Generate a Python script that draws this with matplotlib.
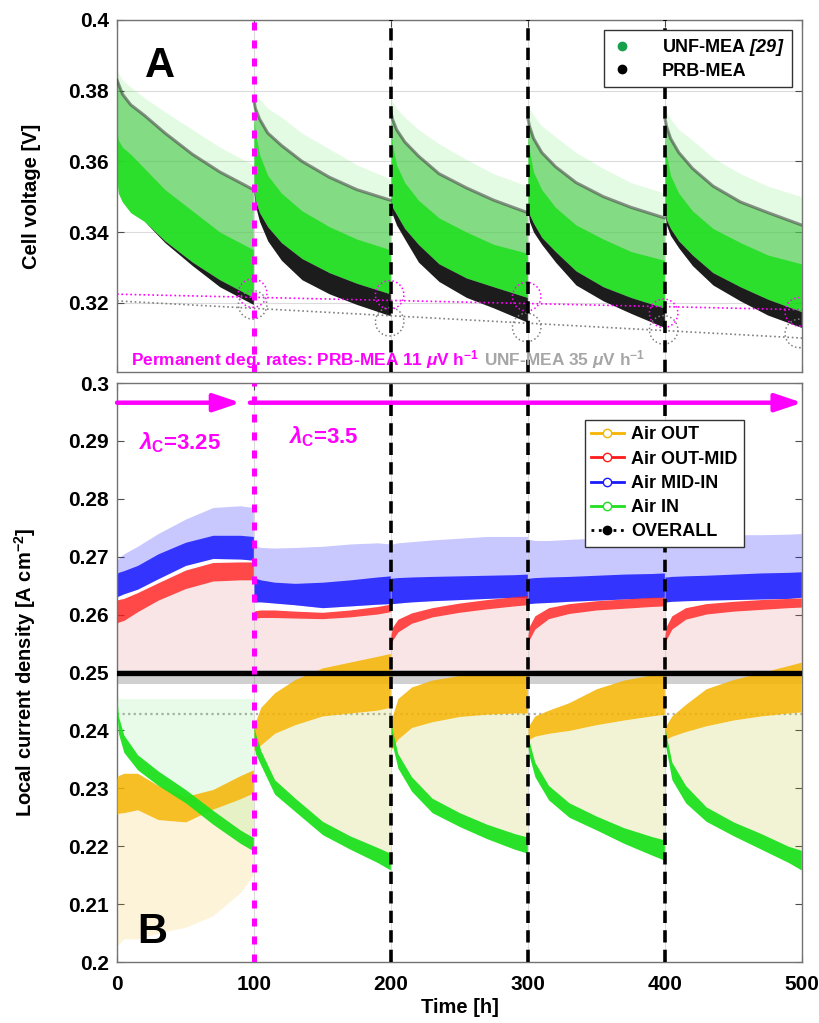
import numpy as np
import matplotlib
matplotlib.use('Agg')
import matplotlib.pyplot as plt
from matplotlib.lines import Line2D

plt.rcParams['font.family'] = ['Liberation Sans', 'DejaVu Sans']
plt.rcParams['font.weight'] = 'bold'
# math: \mathrm gives bold italic (for the reference tag), \mathbf upright bold
plt.rcParams['mathtext.fontset'] = 'custom'
plt.rcParams['mathtext.rm'] = 'Liberation Sans:italic:bold'
plt.rcParams['mathtext.it'] = 'Liberation Sans:italic:bold'
plt.rcParams['mathtext.bf'] = 'Liberation Sans:bold'

# start of each 100 h block
seg_start = [0, 100, 200, 300, 400]

# ---- cell voltage (A) ----
t_top = [0, 1, 4, 10, 20, 35, 55, 75, 99.5]
# PRB-MEA upper trace
prb_hi = [[0.383, 0.382, 0.379, 0.376, 0.373, 0.368, 0.362, 0.357, 0.352],
          [0.377, 0.375, 0.372, 0.368, 0.3645, 0.360, 0.3555, 0.352, 0.349],
          [0.374, 0.372, 0.369, 0.3655, 0.3615, 0.3565, 0.3525, 0.349, 0.3455],
          [0.372, 0.370, 0.3665, 0.3625, 0.3585, 0.354, 0.350, 0.347, 0.344],
          [0.372, 0.370, 0.3665, 0.3625, 0.358, 0.353, 0.3485, 0.3455, 0.342]]
# PRB-MEA lower trace
prb_lo = [[0.355, 0.351, 0.3485, 0.3455, 0.343, 0.337, 0.3305, 0.3245, 0.3195],
          [0.351, 0.3475, 0.343, 0.3375, 0.332, 0.3265, 0.3225, 0.3195, 0.3163],
          [0.348, 0.345, 0.342, 0.338, 0.3315, 0.326, 0.3215, 0.3185, 0.3145],
          [0.346, 0.343, 0.340, 0.3365, 0.3315, 0.325, 0.3205, 0.317, 0.313],
          [0.345, 0.342, 0.339, 0.3355, 0.3305, 0.325, 0.3205, 0.3165, 0.313]]
# UNF-MEA lower edge, dense core top, sparse top
unf_lo = [[0.355, 0.351, 0.3485, 0.3455, 0.343, 0.3375, 0.3315, 0.3265, 0.3215],
          [0.352, 0.349, 0.3455, 0.3415, 0.337, 0.3325, 0.3285, 0.3255, 0.3225],
          [0.349, 0.347, 0.345, 0.341, 0.3365, 0.331, 0.327, 0.3245, 0.3215],
          [0.347, 0.345, 0.3425, 0.3385, 0.3345, 0.329, 0.3245, 0.3215, 0.3185],
          [0.346, 0.3435, 0.341, 0.3375, 0.3335, 0.3285, 0.3245, 0.321, 0.3175]]
unf_core = [[0.368, 0.366, 0.364, 0.362, 0.358, 0.352, 0.346, 0.340, 0.335],
            [0.372, 0.368, 0.362, 0.356, 0.351, 0.346, 0.3415, 0.338, 0.335],
            [0.369, 0.365, 0.359, 0.354, 0.349, 0.344, 0.340, 0.3365, 0.334],
            [0.367, 0.363, 0.357, 0.352, 0.347, 0.342, 0.338, 0.3345, 0.332],
            [0.367, 0.362, 0.356, 0.351, 0.346, 0.341, 0.337, 0.3335, 0.331]]
unf_hi = [[0.386, 0.385, 0.383, 0.381, 0.378, 0.374, 0.369, 0.364, 0.359],
          [0.380, 0.379, 0.3775, 0.375, 0.3725, 0.368, 0.3635, 0.359, 0.355],
          [0.378, 0.377, 0.375, 0.3725, 0.369, 0.365, 0.3605, 0.3565, 0.353],
          [0.376, 0.375, 0.373, 0.370, 0.367, 0.3625, 0.358, 0.354, 0.351],
          [0.375, 0.374, 0.372, 0.369, 0.366, 0.361, 0.3565, 0.353, 0.350]]
# permanent degradation lines and end-of-block markers
deg_t = [0, 500]
deg_prb = [0.3224, 0.3180]
deg_unf = [0.3205, 0.3100]
mark_t = [99, 199, 299, 399, 498]
mark_prb = [0.3227, 0.3222, 0.3217, 0.3170, 0.3174]
mark_unf = [0.3194, 0.3146, 0.3130, 0.3123, 0.3113]

# ---- local current density (B) ----
t_bot = [0, 1, 5, 15, 30, 50, 70, 90, 99.5]
mid_in_hi = [[0.2694, 0.2697, 0.2705, 0.2718, 0.274, 0.2765, 0.2785, 0.2788, 0.2785],
             [0.272, 0.2718, 0.2716, 0.2715, 0.2716, 0.2718, 0.2722, 0.2724, 0.2722],
             [0.2722, 0.2722, 0.2724, 0.2726, 0.2729, 0.2732, 0.2735, 0.2735, 0.2735],
             [0.273, 0.273, 0.2728, 0.2728, 0.273, 0.2732, 0.2733, 0.2733, 0.2733],
             [0.2735, 0.2735, 0.2735, 0.2736, 0.2737, 0.2738, 0.2738, 0.2739, 0.274]]
mid_in_core = [[0.2671, 0.2673, 0.2676, 0.2685, 0.2705, 0.2725, 0.2737, 0.2737, 0.2735],
               [0.2665, 0.2663, 0.266, 0.2656, 0.2654, 0.2656, 0.266, 0.2665, 0.2667],
               [0.2663, 0.2663, 0.2664, 0.2665, 0.2666, 0.2667, 0.2668, 0.2669, 0.267],
               [0.2663, 0.2663, 0.2664, 0.2665, 0.2666, 0.2668, 0.267, 0.2671, 0.2672],
               [0.2665, 0.2665, 0.2666, 0.2667, 0.2668, 0.267, 0.2672, 0.2673, 0.2674]]
mid_in_lo = [[0.2631, 0.2632, 0.2636, 0.2644, 0.2662, 0.2685, 0.2697, 0.2696, 0.2694],
             [0.2622, 0.2622, 0.2622, 0.262, 0.2617, 0.2612, 0.2615, 0.2618, 0.2619],
             [0.2619, 0.2619, 0.262, 0.2622, 0.2624, 0.2626, 0.2628, 0.263, 0.263],
             [0.2619, 0.2619, 0.262, 0.2621, 0.2623, 0.2625, 0.2627, 0.2629, 0.263],
             [0.2622, 0.2622, 0.2623, 0.2624, 0.2625, 0.2626, 0.2627, 0.2628, 0.263]]
out_mid_hi = [[0.2625, 0.2626, 0.2628, 0.2638, 0.2655, 0.2677, 0.269, 0.2691, 0.2691],
              [0.2605, 0.2607, 0.2608, 0.2608, 0.2606, 0.2604, 0.2608, 0.2614, 0.2618],
              [0.2565, 0.2578, 0.2592, 0.2603, 0.2612, 0.262, 0.2626, 0.2631, 0.2633],
              [0.2565, 0.258, 0.2598, 0.2612, 0.2619, 0.2624, 0.2627, 0.263, 0.263],
              [0.2565, 0.258, 0.2598, 0.2612, 0.2619, 0.2623, 0.2626, 0.2628, 0.2629]]
out_mid_lo = [[0.2585, 0.2587, 0.259, 0.2605, 0.2625, 0.2645, 0.2658, 0.266, 0.266],
              [0.2593, 0.2594, 0.2595, 0.2595, 0.2594, 0.2593, 0.2596, 0.2601, 0.2605],
              [0.2545, 0.2555, 0.257, 0.2585, 0.2596, 0.2604, 0.261, 0.2615, 0.2617],
              [0.2545, 0.2557, 0.2575, 0.2593, 0.2602, 0.2608, 0.2611, 0.2614, 0.2615],
              [0.2545, 0.2557, 0.2575, 0.2592, 0.2601, 0.2606, 0.2609, 0.2612, 0.2613]]
out_hi = [[0.2318, 0.2322, 0.2326, 0.2326, 0.2305, 0.2286, 0.2298, 0.2322, 0.2332],
          [0.2405, 0.2415, 0.244, 0.2465, 0.2488, 0.2508, 0.2518, 0.2528, 0.2533],
          [0.2405, 0.2425, 0.2455, 0.2475, 0.2487, 0.2495, 0.2499, 0.2501, 0.2502],
          [0.2405, 0.241, 0.2425, 0.2435, 0.2448, 0.2472, 0.2487, 0.2496, 0.2499],
          [0.2405, 0.241, 0.2425, 0.2445, 0.2472, 0.2488, 0.25, 0.2512, 0.2518]]
out_lo = [[0.2255, 0.2257, 0.2258, 0.2263, 0.2246, 0.2242, 0.2264, 0.2282, 0.2292],
          [0.2366, 0.2366, 0.2375, 0.2395, 0.241, 0.2425, 0.243, 0.2435, 0.244],
          [0.2366, 0.237, 0.2385, 0.2405, 0.2415, 0.2424, 0.2428, 0.243, 0.243],
          [0.2383, 0.2385, 0.239, 0.2395, 0.24, 0.241, 0.2418, 0.2425, 0.2428],
          [0.2383, 0.2385, 0.239, 0.2398, 0.2408, 0.2418, 0.2425, 0.243, 0.2432]]
in_hi = [[0.2455, 0.2425, 0.2392, 0.2358, 0.233, 0.2298, 0.2262, 0.2228, 0.2215],
         [0.2408, 0.2395, 0.2365, 0.2315, 0.2283, 0.2243, 0.2218, 0.2198, 0.2188],
         [0.2425, 0.24, 0.236, 0.232, 0.2283, 0.2258, 0.2238, 0.2222, 0.2216],
         [0.2395, 0.238, 0.2345, 0.2305, 0.2275, 0.2252, 0.2232, 0.2217, 0.2211],
         [0.2406, 0.239, 0.2345, 0.2305, 0.2268, 0.2242, 0.2222, 0.22, 0.2193]]
in_lo = [[0.243, 0.2395, 0.2362, 0.2332, 0.2305, 0.2275, 0.2238, 0.2205, 0.2192],
         [0.2375, 0.236, 0.234, 0.229, 0.226, 0.222, 0.2195, 0.2172, 0.2159],
         [0.2395, 0.2375, 0.2335, 0.2295, 0.2258, 0.2234, 0.2213, 0.2195, 0.2188],
         [0.237, 0.2355, 0.232, 0.228, 0.225, 0.2228, 0.2205, 0.2185, 0.2176],
         [0.238, 0.2365, 0.2315, 0.2275, 0.2243, 0.2218, 0.2195, 0.2172, 0.2159]]
overall = 0.25
overall_spread = [0.248, 0.2505]
overall_low = 0.2428
cloud_floor = 0.2505
out_floor_first = [0.203, 0.203, 0.204, 0.204, 0.205, 0.206, 0.208, 0.212, 0.215]
in_cloud_top_first = 0.2455

c_green = '#1ee01e'
c_yellow = '#f5b400'
c_red = '#ff1a1a'
c_blue = '#1a1aff'
c_mag = '#ff00ff'


def seg_fill(ax, t_rel, lo, hi, **kw):
    for i, s in enumerate(seg_start):
        a = lo[i] if isinstance(lo, list) else lo
        b = hi[i] if isinstance(hi, list) else hi
        ax.fill_between(np.add(s, t_rel), a, b, lw=0, **kw)


def style(ax):
    ax.set_xlim(0, 500)
    ax.set_xticks(range(0, 501, 100))
    ax.tick_params(direction='in', top=True, right=True, length=5,
                   labelsize=15, width=0.8, color='0.3', pad=6)
    for sp in ax.spines.values():
        sp.set_color('0.45')
        sp.set_linewidth(1.0)


def block_lines(ax):
    ax.axvline(100, color=c_mag, lw=3.6, dashes=(1.6, 2.0), zorder=6)
    for x in [200, 300, 400]:
        ax.axvline(x, color='k', lw=2.6, dashes=(3.4, 2.0), zorder=6)


fig = plt.figure(figsize=(8.2, 10.23), dpi=100)
ax1 = fig.add_axes([0.1427, 0.6364, 0.8354, 0.3441])
ax2 = fig.add_axes([0.1427, 0.0596, 0.8354, 0.5660])

# ---- A: cell voltage ----
style(ax1)
ax1.set_ylim(0.3004, 0.4)
ax1.set_yticks([0.32, 0.34, 0.36, 0.38, 0.4])
ax1.set_yticklabels(['0.32', '0.34', '0.36', '0.38', '0.4'])
ax1.set_xticklabels([])
ax1.grid(True, color='0.86', lw=0.8)
ax1.set_axisbelow(True)

seg_fill(ax1, t_top, unf_lo, unf_hi, color=c_green, alpha=0.12, zorder=2)
seg_fill(ax1, t_top, unf_lo, prb_hi, color='#50cc50', alpha=0.65, zorder=2)
seg_fill(ax1, t_top, unf_lo, unf_core, color=c_green, alpha=0.85, zorder=2)
seg_fill(ax1, t_top, prb_lo, unf_lo, color='#1c1c1c', zorder=3)
for i, s in enumerate(seg_start):
    ax1.plot(np.add(s, t_top), prb_hi[i], color='#3a3a3a', lw=2.2,
             alpha=0.55, zorder=3)

ax1.plot(deg_t, deg_prb, color=c_mag, lw=1.2, ls=':', zorder=4)
ax1.plot(deg_t, deg_unf, color='0.5', lw=1.2, ls=':', zorder=4)
ax1.scatter(mark_t, mark_prb, s=420, facecolors='none', edgecolors=c_mag,
            linestyles=':', linewidths=1.1, zorder=5)
ax1.scatter(mark_t, mark_unf, s=420, facecolors='none', edgecolors='0.5',
            linestyles=':', linewidths=1.1, zorder=5)
block_lines(ax1)

ax1.set_ylabel('Cell voltage [V]', fontsize=14.5, fontweight='bold')
ax1.yaxis.set_label_coords(-0.111, 0.5)
ax1.text(0.041, 0.838, 'A', transform=ax1.transAxes, fontsize=30,
         fontweight='bold', zorder=8)
ax1.text(10, 0.3022,
         r'Permanent deg. rates: PRB-MEA 11 $\mu$V h$^{\mathbf{-1}}$',
         color=c_mag, fontsize=12.4, fontweight='bold', zorder=8)
ax1.text(268, 0.3022, r'UNF-MEA 35 $\mu$V h$^{\mathbf{-1}}$', color='0.65',
         fontsize=12.4, fontweight='bold', zorder=8)

h_top = [Line2D([], [], ls='none', marker='o', ms=6, color='#16a04c'),
         Line2D([], [], ls='none', marker='o', ms=6, color='k')]
leg1 = ax1.legend(h_top, [r'UNF-MEA $\mathrm{[29]}$', 'PRB-MEA'],
                  loc='upper right', bbox_to_anchor=(0.985, 0.9716),
                  borderaxespad=0, fontsize=13, fancybox=False, framealpha=1,
                  edgecolor='0.2', handlelength=1.2, labelspacing=0.25,
                  borderpad=0.4, handletextpad=1.6)
leg1.set_zorder(10)

# ---- B: local current density ----
style(ax2)
ax2.tick_params(axis='x', pad=9)
ax2.set_ylim(0.2, 0.3)
yt = np.round(np.arange(0.2, 0.3001, 0.01), 2)
ax2.set_yticks(yt)
ax2.set_yticklabels(['%g' % v for v in yt])
ax2.grid(True, axis='x', color='0.86', lw=0.8)
ax2.set_axisbelow(True)

# Air OUT-MID / Air MID-IN clouds
seg_fill(ax2, t_bot, cloud_floor, out_mid_lo, color='#e07070', alpha=0.18, zorder=2)
seg_fill(ax2, t_bot, mid_in_lo, mid_in_hi, color=c_blue, alpha=0.24, zorder=2)
seg_fill(ax2, t_bot, mid_in_lo, mid_in_core, color=c_blue, alpha=0.85, zorder=2)
seg_fill(ax2, t_bot, out_mid_lo, out_mid_hi, color=c_red, alpha=0.8, zorder=2)

# overall
ax2.fill_between([0, 500], overall_spread[0], overall_spread[1], color='0.4',
                 alpha=0.3, lw=0, zorder=2)
ax2.axhline(overall_low, color='0.3', lw=1.6, ls=(0, (1, 1.5)), alpha=0.45,
            zorder=2)

# Air OUT and Air IN
ax2.fill_between(np.add(0, t_bot), out_floor_first, out_lo[0], color=c_yellow,
                 alpha=0.15, lw=0, zorder=2)
ax2.fill_between(np.add(0, t_bot), in_hi[0], in_cloud_top_first, color=c_green,
                 alpha=0.1, lw=0, zorder=2)
for i, s in enumerate(seg_start[1:], start=1):
    tt = np.add(s, t_bot)
    ax2.fill_between(tt, in_hi[i], out_lo[i], color=c_yellow, alpha=0.13,
                     lw=0, zorder=2)
    ax2.fill_between(tt, in_hi[i], out_lo[i], color=c_green, alpha=0.05,
                     lw=0, zorder=2)
seg_fill(ax2, t_bot, out_lo, out_hi, color=c_yellow, alpha=0.85, zorder=3)
seg_fill(ax2, t_bot, in_lo, in_hi, color=c_green, alpha=0.95, zorder=4)

ax2.axhline(overall, color='k', lw=3.8, zorder=5)
block_lines(ax2)

# stoichiometry arrows
arr = dict(arrowstyle='-|>,head_length=0.95,head_width=0.32', color=c_mag,
           lw=3.2, mutation_scale=17, shrinkA=0, shrinkB=0)
ax2.annotate('', xy=(90, 0.2966), xytext=(0, 0.2966), arrowprops=arr, zorder=7)
ax2.annotate('', xy=(500, 0.2966), xytext=(97, 0.2966), arrowprops=arr, zorder=7)
ax2.text(15, 0.2885, r'$\lambda_\mathbf{C}$=3.25', color=c_mag, fontsize=16,
         fontweight='bold', zorder=8)
ax2.text(125, 0.2895, r'$\lambda_\mathbf{C}$=3.5', color=c_mag, fontsize=16,
         fontweight='bold', zorder=8)

ax2.set_xlabel('Time [h]', fontsize=14.5, fontweight='bold', labelpad=3)
ax2.set_ylabel(r'Local current density [A cm$^{\mathbf{-2}}$]', fontsize=14.5,
               fontweight='bold')
ax2.yaxis.set_label_coords(-0.115, 0.5)
ax2.text(0.029, 0.033, 'B', transform=ax2.transAxes, fontsize=30,
         fontweight='bold', zorder=8)

h_bot = [Line2D([], [], color=c, lw=2, marker='o', ms=6, mfc='white', mec=c)
         for c in [c_yellow, c_red, c_blue, c_green]]
h_bot.append(Line2D([], [], color='k', lw=2, ls=':', marker='o', ms=6))
leg2 = ax2.legend(h_bot, ['Air OUT', 'Air OUT-MID', 'Air MID-IN', 'Air IN',
                          'OVERALL'],
                  loc='upper left', bbox_to_anchor=(0.683, 0.936),
                  borderaxespad=0, fontsize=13, fancybox=False, framealpha=1,
                  edgecolor='0.2', handlelength=1.8, labelspacing=0.4,
                  borderpad=0.35, handletextpad=0.4)
leg2.set_zorder(10)

fig.savefig('out.png', dpi=100)
